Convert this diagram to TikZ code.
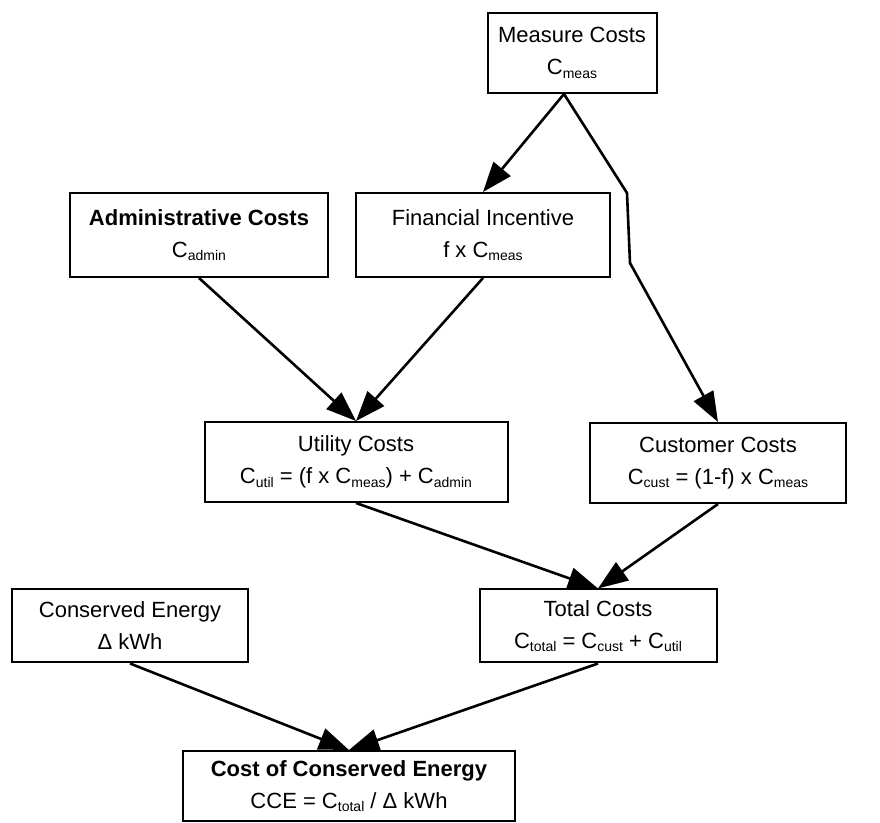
\documentclass[tikz,border=0pt]{standalone}
\usepackage{fontspec}
\setmainfont{Liberation Sans}
\usetikzlibrary{arrows.meta}
\newcommand{\lowidx}[1]{\raisebox{-0.3ex}{\fontsize{7}{8}\selectfont #1}}
\tikzset{
	costbox/.style={draw, line width=1pt, align=center, inner sep=2pt, minimum height=40pt},
	flow/.style={line width=1.3pt, -{Triangle[length=15pt,width=11pt]}}
}
\begin{document}
\begin{tikzpicture}[x=0.5pt, y=-0.5pt, font=\fontsize{11}{16}\selectfont, line join=miter]
	\useasboundingbox (0,0) rectangle (880,823);
	\node[costbox, minimum width=84.5pt] (meas) at (572,53) {Measure Costs\\C\lowidx{meas}};
	\node[costbox, minimum width=129pt, minimum height=42pt] (admin) at (199,235) {\textbf{Administrative Costs}\\C\lowidx{admin}};
	\node[costbox, minimum width=127pt, minimum height=42pt] (fin) at (483,235) {Financial Incentive\\f x C\lowidx{meas}};
	\node[costbox, minimum width=151.5pt] (util) at (356,462) {Utility Costs\\C\lowidx{util} = (f x C\lowidx{meas}) + C\lowidx{admin}};
	\node[costbox, minimum width=128pt] (cust) at (718,463) {Customer Costs\\C\lowidx{cust} = (1-f) x C\lowidx{meas}};
	\node[costbox, minimum width=118pt, minimum height=36.5pt] (cons) at (130,626) {Conserved Energy\\Δ kWh};
	\node[costbox, minimum width=118.5pt, minimum height=36.5pt] (total) at (598,626) {Total Costs\\C\lowidx{total} = C\lowidx{cust} + C\lowidx{util}};
	\node[costbox, minimum width=166pt, minimum height=35pt] (cce) at (349,786) {\textbf{Cost of Conserved Energy}\\CCE = C\lowidx{total} / Δ kWh};
	% bend of the line to the customer costs
	\coordinate (bendA) at (627,193);
	\coordinate (bendB) at (630,263);
	\draw[flow] ([xshift=-4pt]meas.south) -- (fin.north);
	\draw[flow] ([xshift=-4pt]meas.south) -- (bendA) -- (bendB) -- (cust.north);
	\draw[flow] (admin.south) -- (util.north);
	\draw[flow] (fin.south) -- (util.north);
	\draw[flow] (util.south) -- (total.north);
	\draw[flow] (cust.south) -- (total.north);
	\draw[flow] (cons.south) -- (cce.north);
	\draw[flow] (total.south) -- (cce.north);
\end{tikzpicture}
\end{document}
